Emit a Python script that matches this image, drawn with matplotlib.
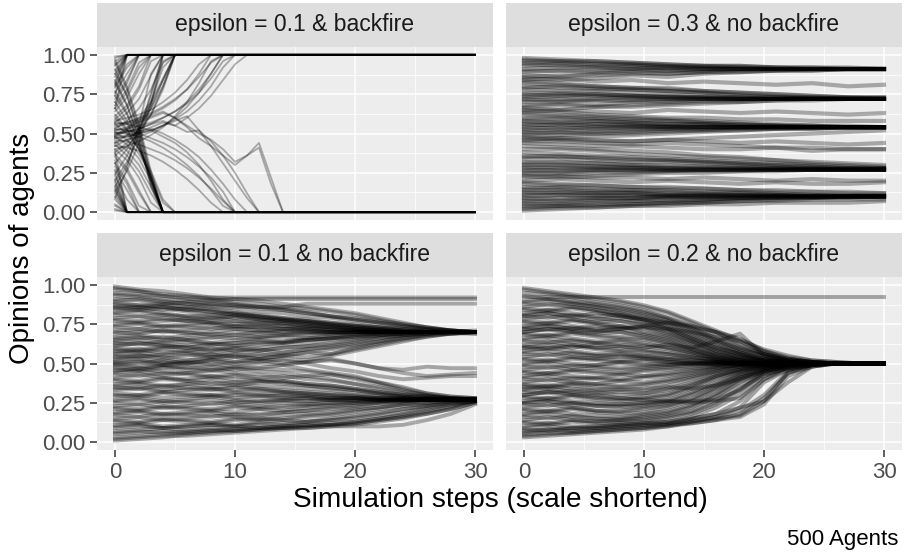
import matplotlib
matplotlib.use("Agg")
import matplotlib.pyplot as plt

plt.rcParams['font.family'] = ['Liberation Sans', 'DejaVu Sans']

W, H = 907, 557

# facet titles, in panel order (top-left, top-right, bottom-left, bottom-right)
titles = ["epsilon = 0.1 & backfire", "epsilon = 0.3 & no backfire",
          "epsilon = 0.1 & no backfire", "epsilon = 0.2 & no backfire"]

x_ticks = [0, 10, 20, 30]
y_ticks = [0.0, 0.25, 0.5, 0.75, 1.0]
y_ticklabels = ["0.00", "0.25", "0.50", "0.75", "1.00"]

# opinions are stored x100
# eps 0.1 + backfire: one list per agent for steps 0,1,2,... until it sticks at 0 or 100
backfire_01 = [
    [99, 100], [96, 100], [93, 100], [90, 100], [86, 100], [83, 100],
    [98, 100], [94, 100], [88, 100], [81, 100], [74, 100], [66, 100],
    [79, 92, 100], [76, 88, 100], [72, 84, 100], [68, 78, 95, 100],
    [80, 94, 100], [70, 82, 100], [66, 76, 92, 100], [59, 66, 78, 96, 100],
    [64, 73, 88, 100], [61, 68, 80, 100], [57, 63, 72, 87, 100],
    [53, 58, 66, 78, 95, 100], [49, 53, 60, 70, 85, 100],
    [44, 49, 56, 66, 80, 100], [38, 44, 53, 66, 84, 100],
    [48, 52, 58, 68, 84, 100], [42, 46, 52, 62, 78, 100], [36, 42, 50, 62, 80, 100],
    [31, 40, 53, 70, 92, 100], [24, 36, 52, 74, 100],
    [20, 32, 48, 70, 96, 100], [13, 26, 44, 68, 100],
    [16, 30, 50, 76, 100], [9, 28, 55, 88, 100],
    [2, 0], [5, 0], [8, 0], [12, 0], [15, 0], [19, 0],
    [1, 0], [4, 0], [10, 0], [14, 0], [17, 0], [21, 0], [26, 0], [33, 0], [39, 0],
    [23, 8, 0], [27, 14, 0], [31, 20, 4, 0], [35, 26, 12, 0],
    [29, 18, 0], [37, 28, 14, 0], [43, 36, 26, 12, 0], [48, 43, 34, 20, 0],
    [40, 33, 22, 6, 0], [45, 39, 30, 16, 0], [51, 46, 37, 24, 6, 0],
    [56, 50, 40, 26, 8, 0], [62, 53, 40, 22, 0], [70, 58, 42, 20, 0],
    [60, 52, 40, 22, 0], [66, 56, 42, 22, 0], [74, 62, 44, 20, 0],
    [77, 63, 44, 18, 0], [84, 68, 46, 16, 0], [91, 74, 50, 18, 0],
    [82, 68, 48, 22, 0], [88, 74, 52, 24, 0], [95, 78, 54, 22, 0],
    [97, 80, 56, 26, 0],
    [55, 57, 60, 63, 67, 72, 78, 86, 95, 100],
    [50, 51, 53, 56, 60, 64, 70, 78, 88, 100],
    [58, 60, 62, 65, 70, 76, 84, 94, 100],
    [52, 53, 55, 57, 60, 64, 69, 76, 85, 96, 100],
    [47, 48, 50, 52, 55, 59, 64, 71, 80, 92, 100],
    [44, 46, 48, 51, 55, 60, 67, 76, 88, 100],
    [56, 57, 59, 62, 66, 71, 78, 88, 100],
    [40, 42, 45, 49, 54, 61, 70, 82, 96, 100],
    [50, 52, 51, 54, 57, 55, 60, 66, 74, 84, 94, 100],
    [46, 45, 43, 40, 37, 33, 28, 22, 15, 7, 0],
    [42, 41, 39, 36, 32, 27, 21, 14, 6, 0],
    [53, 52, 50, 47, 44, 40, 35, 29, 22, 13, 0],
    [57, 56, 54, 52, 48, 44, 38, 30, 20, 8, 0],
    [51, 50, 48, 45, 41, 36, 30, 23, 14, 4, 0],
    [48, 49, 51, 53, 50, 46, 41, 35, 27, 18, 8, 0],
    [52, 54, 57, 60, 63, 60, 55, 50, 46, 40, 32, 36, 44, 22, 0],
    [49, 51, 53, 56, 58, 55, 51, 52, 42, 36, 30, 36, 41, 18, 0],
    [54, 56, 58, 61, 64, 60, 54, 47, 42, 31, 20, 9, 0],
    [47, 48, 50, 52, 55, 58, 61, 52, 45, 36, 25, 12, 0],
]
last_step = 30

# eps 0.3, no backfire
steps_03 = [0, 3, 6, 9, 12, 15, 18, 21, 24, 27, 30]
no_backfire_03 = [
    [98, 97, 96, 95, 94, 93, 93, 92, 92, 91, 91],
    [97, 96, 96, 95, 94, 93, 93, 92, 92, 92, 91],
    [96, 96, 95, 94, 93, 93, 92, 92, 91, 91, 91],
    [95, 95, 94, 94, 93, 92, 92, 91, 91, 91, 91],
    [94, 93, 92, 92, 91, 91, 91, 91, 91, 91, 91],
    [93, 94, 93, 93, 92, 92, 91, 91, 91, 91, 91],
    [91, 92, 92, 91, 92, 91, 91, 91, 91, 91, 91],
    [90, 90, 89, 90, 90, 90, 91, 91, 91, 91, 91],
    [89, 90, 90, 91, 90, 91, 91, 91, 91, 91, 91],
    [87, 86, 88, 89, 88, 89, 90, 90, 91, 91, 91],
    [86, 87, 87, 88, 88, 89, 89, 90, 90, 91, 91],
    [85, 84, 85, 87, 86, 88, 89, 90, 90, 91, 91],
    [84, 85, 83, 84, 82, 83, 82, 81, 82, 80, 81],
    [83, 82, 80, 79, 78, 77, 76, 75, 74, 73, 73],
    [82, 81, 80, 79, 79, 77, 76, 75, 74, 73, 73],
    [80, 79, 78, 78, 77, 76, 74, 73, 73, 72, 72],
    [79, 80, 79, 78, 77, 76, 75, 74, 73, 73, 72],
    [78, 77, 77, 76, 75, 74, 73, 73, 72, 72, 72],
    [76, 76, 75, 74, 74, 73, 73, 72, 72, 72, 72],
    [75, 74, 75, 74, 73, 73, 72, 72, 72, 72, 72],
    [74, 75, 74, 74, 73, 73, 72, 72, 72, 72, 72],
    [73, 74, 74, 73, 73, 72, 72, 72, 72, 72, 72],
    [72, 71, 72, 73, 72, 72, 72, 72, 72, 72, 72],
    [71, 72, 71, 71, 71, 72, 72, 72, 72, 72, 72],
    [70, 70, 71, 71, 72, 72, 72, 72, 72, 72, 72],
    [68, 69, 68, 70, 70, 71, 71, 72, 72, 72, 72],
    [67, 68, 67, 68, 69, 70, 70, 71, 72, 72, 72],
    [66, 65, 67, 67, 68, 69, 70, 71, 71, 72, 72],
    [65, 64, 62, 61, 60, 60, 59, 59, 58, 58, 58],
    [64, 65, 64, 63, 65, 64, 63, 64, 63, 62, 63],
    [63, 62, 61, 60, 59, 58, 57, 56, 55, 55, 54],
    [62, 61, 60, 59, 58, 57, 56, 55, 55, 54, 54],
    [60, 60, 59, 58, 58, 57, 56, 55, 55, 54, 54],
    [59, 59, 58, 57, 56, 56, 55, 55, 54, 54, 54],
    [58, 57, 58, 57, 56, 56, 55, 55, 54, 54, 54],
    [57, 57, 56, 56, 55, 55, 54, 54, 54, 54, 54],
    [56, 55, 56, 55, 55, 54, 54, 54, 54, 54, 54],
    [55, 56, 55, 55, 54, 54, 54, 54, 54, 54, 54],
    [54, 53, 54, 54, 54, 54, 54, 54, 54, 54, 54],
    [53, 54, 53, 54, 54, 54, 54, 54, 54, 54, 54],
    [52, 52, 53, 53, 53, 54, 54, 54, 54, 54, 54],
    [51, 50, 51, 52, 53, 53, 54, 54, 54, 54, 54],
    [50, 51, 50, 51, 52, 52, 53, 53, 54, 54, 54],
    [49, 49, 50, 50, 51, 52, 52, 53, 53, 54, 54],
    [48, 47, 48, 49, 50, 51, 52, 53, 53, 54, 54],
    [47, 46, 45, 45, 46, 47, 48, 49, 50, 51, 52],
    [46, 47, 46, 45, 46, 45, 44, 45, 44, 43, 44],
    [45, 45, 44, 43, 44, 43, 42, 41, 41, 40, 40],
    [44, 43, 42, 42, 41, 40, 40, 41, 39, 40, 40],
    [42, 41, 40, 39, 38, 36, 35, 33, 32, 31, 30],
    [40, 40, 39, 37, 36, 35, 34, 33, 31, 30, 29],
    [38, 37, 36, 35, 34, 33, 32, 31, 30, 29, 28],
    [36, 35, 35, 34, 33, 32, 31, 30, 29, 28, 28],
    [35, 36, 34, 33, 33, 32, 31, 30, 29, 28, 28],
    [34, 34, 33, 32, 32, 31, 30, 29, 28, 28, 27],
    [32, 31, 31, 30, 30, 29, 29, 28, 28, 27, 27],
    [31, 32, 31, 30, 29, 29, 28, 28, 27, 27, 27],
    [30, 30, 29, 29, 28, 28, 28, 27, 27, 27, 27],
    [29, 28, 28, 28, 27, 27, 27, 27, 27, 27, 27],
    [28, 29, 29, 28, 28, 27, 27, 27, 27, 27, 27],
    [27, 26, 27, 27, 27, 27, 27, 27, 27, 27, 27],
    [26, 27, 27, 27, 27, 27, 27, 27, 27, 27, 27],
    [25, 25, 26, 26, 26, 27, 27, 27, 27, 27, 27],
    [24, 24, 25, 25, 26, 26, 26, 27, 27, 27, 27],
    [23, 22, 23, 24, 25, 25, 26, 26, 27, 27, 27],
    [22, 23, 22, 22, 21, 22, 21, 20, 21, 20, 20],
    [20, 21, 20, 19, 20, 19, 18, 19, 18, 18, 19],
    [19, 18, 17, 16, 16, 15, 14, 14, 13, 13, 12],
    [18, 17, 17, 16, 15, 15, 14, 13, 13, 12, 12],
    [16, 15, 14, 14, 13, 12, 12, 11, 11, 10, 10],
    [15, 16, 15, 14, 14, 13, 13, 12, 11, 11, 11],
    [14, 14, 13, 13, 12, 12, 11, 11, 10, 10, 10],
    [13, 12, 12, 12, 11, 11, 11, 11, 10, 10, 10],
    [12, 13, 12, 12, 11, 11, 11, 10, 10, 10, 10],
    [11, 11, 11, 10, 10, 10, 10, 10, 10, 10, 10],
    [10, 11, 10, 11, 10, 10, 10, 10, 10, 10, 10],
    [9, 8, 9, 9, 10, 10, 10, 10, 10, 10, 10],
    [8, 9, 9, 9, 10, 10, 10, 10, 10, 10, 10],
    [7, 7, 8, 8, 9, 9, 9, 10, 10, 10, 10],
    [6, 6, 7, 7, 8, 8, 9, 9, 9, 10, 10],
    [5, 5, 6, 7, 7, 8, 9, 9, 10, 10, 10],
    [4, 4, 5, 5, 6, 6, 7, 7, 8, 8, 8],
    [3, 4, 4, 5, 6, 7, 8, 9, 9, 10, 10],
    [2, 3, 3, 4, 4, 5, 5, 6, 6, 6, 7],
    [1, 2, 3, 4, 5, 6, 7, 8, 9, 9, 10],
]

# eps 0.1, no backfire
steps_01 = [0, 2, 4, 6, 8, 10, 12, 14, 16, 18, 20, 22, 24, 26, 28, 30]
no_backfire_01 = [
    [99, 97, 96, 94, 92, 91, 90, 88, 86, 84, 82, 79, 76, 73, 71, 70],
    [98, 96, 94, 93, 91, 89, 88, 86, 85, 83, 81, 78, 75, 73, 71, 70],
    [97, 96, 93, 91, 90, 88, 86, 85, 83, 80, 78, 76, 74, 72, 71, 70],
    [95, 94, 93, 92, 92, 92, 92, 92, 92, 92, 92, 92, 92, 92, 92, 92],
    [94, 93, 91, 90, 88, 87, 85, 84, 82, 80, 79, 77, 75, 73, 71, 70],
    [93, 92, 90, 88, 87, 86, 86, 86, 88, 88, 88, 88, 88, 88, 88, 88],
    [91, 90, 88, 86, 84, 82, 81, 79, 77, 76, 74, 73, 72, 71, 70, 70],
    [90, 91, 89, 88, 86, 85, 83, 82, 80, 79, 77, 75, 73, 72, 71, 70],
    [89, 87, 86, 84, 85, 83, 80, 78, 77, 75, 74, 72, 71, 70, 70, 70],
    [88, 87, 88, 89, 90, 91, 91, 91, 91, 91, 91, 91, 91, 91, 91, 91],
    [87, 86, 84, 85, 83, 81, 79, 78, 76, 75, 73, 72, 71, 70, 70, 69],
    [86, 85, 86, 84, 83, 81, 80, 79, 78, 76, 75, 73, 72, 71, 70, 70],
    [85, 84, 85, 83, 81, 82, 80, 78, 77, 75, 74, 73, 71, 70, 70, 70],
    [85, 86, 87, 86, 88, 87, 86, 84, 82, 80, 78, 76, 74, 72, 71, 70],
    [83, 84, 82, 80, 81, 79, 78, 77, 75, 74, 72, 71, 70, 70, 69, 69],
    [82, 83, 81, 80, 79, 80, 78, 77, 76, 74, 73, 72, 71, 70, 70, 70],
    [81, 80, 81, 79, 78, 80, 78, 76, 75, 73, 72, 71, 70, 70, 70, 70],
    [79, 80, 78, 77, 79, 77, 76, 75, 74, 73, 72, 71, 70, 70, 70, 70],
    [78, 77, 79, 77, 76, 77, 75, 76, 74, 73, 72, 71, 70, 70, 70, 70],
    [77, 76, 77, 78, 76, 75, 76, 74, 73, 72, 71, 71, 70, 70, 70, 70],
    [75, 76, 74, 75, 76, 74, 73, 74, 72, 72, 71, 70, 70, 70, 70, 70],
    [74, 75, 73, 74, 75, 73, 74, 72, 73, 71, 71, 70, 70, 70, 70, 70],
    [73, 72, 74, 73, 72, 74, 73, 72, 72, 71, 71, 70, 70, 70, 70, 71],
    [71, 72, 70, 71, 73, 72, 71, 72, 71, 70, 70, 70, 70, 70, 70, 70],
    [70, 69, 71, 70, 68, 70, 69, 71, 70, 70, 70, 70, 70, 70, 70, 70],
    [69, 70, 71, 69, 70, 72, 71, 70, 71, 70, 70, 70, 70, 70, 70, 70],
    [67, 68, 66, 68, 69, 68, 70, 69, 70, 69, 70, 70, 70, 70, 70, 70],
    [66, 67, 65, 66, 67, 66, 67, 68, 68, 69, 70, 70, 70, 70, 70, 70],
    [65, 66, 67, 65, 66, 68, 67, 68, 69, 70, 69, 70, 70, 70, 70, 70],
    [64, 65, 63, 64, 62, 63, 64, 63, 65, 66, 67, 68, 69, 70, 70, 70],
    [63, 62, 64, 65, 63, 65, 66, 67, 66, 68, 69, 69, 70, 70, 70, 70],
    [62, 63, 61, 62, 63, 61, 63, 64, 65, 66, 68, 69, 69, 70, 70, 70],
    [61, 63, 62, 60, 62, 63, 65, 64, 66, 67, 68, 69, 70, 70, 70, 70],
    [60, 59, 61, 60, 58, 60, 59, 57, 59, 60, 62, 64, 66, 68, 69, 70],
    [59, 58, 60, 61, 59, 61, 62, 63, 65, 66, 67, 68, 69, 70, 70, 70],
    [58, 57, 59, 58, 57, 59, 58, 60, 61, 62, 64, 66, 68, 69, 70, 70],
    [57, 59, 57, 58, 60, 58, 60, 62, 63, 65, 66, 68, 69, 70, 70, 70],
    [56, 57, 55, 56, 54, 55, 53, 52, 50, 47, 45, 42, 40, 41, 42, 42],
    [55, 54, 56, 57, 55, 57, 58, 60, 61, 63, 65, 67, 68, 69, 70, 70],
    [54, 55, 53, 55, 56, 54, 56, 55, 57, 59, 61, 64, 67, 69, 70, 70],
    [53, 55, 54, 52, 54, 56, 55, 57, 59, 61, 63, 66, 68, 69, 70, 70],
    [52, 53, 51, 50, 52, 54, 53, 55, 54, 56, 59, 62, 65, 67, 69, 70],
    [51, 52, 50, 52, 53, 51, 53, 55, 57, 56, 60, 63, 66, 68, 69, 70],
    [50, 51, 49, 50, 52, 50, 51, 53, 52, 55, 58, 61, 64, 67, 69, 70],
    [50, 48, 49, 51, 50, 48, 47, 49, 46, 44, 42, 38, 34, 31, 29, 28],
    [49, 50, 52, 50, 49, 51, 52, 50, 51, 53, 50, 47, 46, 48, 47, 47],
    [48, 47, 49, 47, 48, 46, 47, 46, 45, 43, 41, 38, 35, 31, 29, 28],
    [47, 46, 48, 46, 45, 47, 45, 44, 42, 43, 40, 37, 33, 30, 28, 27],
    [46, 45, 47, 48, 46, 48, 50, 49, 51, 52, 50, 47, 44, 42, 43, 44],
    [45, 47, 45, 44, 46, 44, 43, 41, 42, 40, 37, 35, 32, 30, 28, 28],
    [44, 45, 43, 44, 42, 43, 41, 42, 40, 39, 37, 34, 31, 29, 28, 27],
    [43, 42, 44, 43, 41, 42, 40, 39, 37, 36, 34, 32, 30, 29, 28, 27],
    [41, 43, 41, 40, 42, 40, 39, 38, 36, 35, 33, 31, 29, 28, 27, 27],
    [40, 39, 41, 39, 40, 38, 39, 37, 36, 34, 33, 31, 29, 28, 27, 27],
    [39, 38, 40, 39, 37, 38, 36, 35, 34, 33, 31, 30, 29, 28, 27, 27],
    [37, 38, 36, 37, 35, 36, 34, 33, 32, 31, 30, 29, 28, 27, 27, 27],
    [36, 37, 35, 37, 38, 36, 38, 39, 37, 36, 34, 32, 30, 29, 28, 27],
    [35, 34, 36, 34, 33, 35, 33, 32, 31, 30, 29, 28, 28, 27, 27, 27],
    [34, 35, 33, 35, 34, 33, 34, 32, 31, 30, 29, 28, 28, 27, 27, 27],
    [33, 34, 32, 33, 34, 32, 31, 31, 30, 29, 28, 28, 27, 27, 27, 27],
    [31, 30, 32, 31, 30, 31, 30, 29, 29, 28, 28, 27, 27, 27, 27, 27],
    [30, 29, 31, 30, 29, 30, 29, 30, 29, 28, 28, 27, 27, 27, 27, 27],
    [29, 30, 28, 29, 30, 28, 29, 28, 28, 27, 28, 27, 27, 27, 27, 27],
    [27, 28, 26, 27, 29, 27, 26, 27, 28, 27, 27, 27, 27, 27, 27, 27],
    [26, 27, 25, 26, 27, 25, 26, 27, 26, 27, 27, 27, 27, 27, 27, 27],
    [25, 24, 26, 25, 24, 26, 25, 26, 26, 27, 26, 27, 27, 27, 27, 27],
    [23, 24, 22, 23, 25, 24, 23, 25, 24, 25, 26, 26, 27, 27, 27, 27],
    [22, 21, 23, 22, 21, 23, 22, 23, 24, 25, 25, 26, 27, 27, 27, 27],
    [21, 20, 22, 21, 20, 22, 21, 22, 23, 24, 25, 26, 26, 27, 27, 27],
    [19, 20, 18, 19, 20, 19, 21, 20, 22, 23, 24, 25, 26, 27, 27, 27],
    [18, 19, 17, 18, 19, 17, 18, 19, 20, 22, 23, 25, 26, 27, 27, 27],
    [17, 16, 18, 17, 16, 18, 17, 19, 20, 21, 22, 24, 25, 26, 27, 27],
    [15, 16, 14, 15, 17, 16, 15, 17, 18, 19, 21, 22, 24, 25, 26, 27],
    [14, 13, 15, 14, 13, 15, 14, 15, 17, 18, 20, 22, 24, 25, 26, 27],
    [13, 12, 14, 13, 12, 14, 15, 14, 16, 17, 19, 21, 23, 24, 26, 27],
    [11, 12, 10, 11, 12, 11, 13, 14, 13, 15, 17, 19, 21, 23, 25, 26],
    [10, 11, 9, 10, 11, 10, 12, 11, 13, 14, 16, 18, 21, 23, 25, 26],
    [9, 10, 9, 10, 11, 10, 11, 12, 13, 14, 15, 17, 19, 22, 24, 26],
    [7, 8, 9, 8, 9, 10, 9, 10, 11, 11, 12, 14, 16, 18, 21, 25],
    [6, 7, 6, 7, 8, 7, 8, 9, 10, 11, 13, 15, 18, 21, 24, 26],
    [5, 6, 7, 6, 7, 8, 9, 9, 9, 10, 10, 10, 11, 14, 18, 24],
    [3, 4, 5, 6, 7, 8, 9, 10, 11, 12, 13, 15, 17, 20, 23, 26],
    [2, 3, 4, 4, 5, 6, 7, 8, 9, 10, 11, 13, 15, 18, 21, 25],
    [1, 2, 3, 5, 6, 7, 8, 9, 10, 11, 12, 14, 16, 19, 22, 26],
]

# eps 0.2, no backfire
steps_02 = [0, 2, 4, 6, 8, 10, 12, 14, 16, 18, 20, 22, 24, 26, 28, 30]
no_backfire_02 = [
    [98, 96, 94, 92, 90, 87, 83, 77, 71, 65, 59, 55, 52, 51, 50, 50],
    [97, 95, 93, 91, 89, 86, 82, 76, 70, 64, 58, 54, 52, 51, 50, 50],
    [95, 94, 92, 89, 87, 84, 79, 73, 66, 60, 56, 53, 51, 50, 50, 50],
    [93, 91, 90, 88, 86, 83, 79, 74, 68, 61, 56, 53, 51, 50, 50, 50],
    [92, 92, 92, 92, 92, 92, 92, 92, 92, 92, 92, 92, 92, 92, 92, 92],
    [90, 91, 89, 87, 85, 82, 78, 72, 65, 59, 55, 52, 51, 50, 50, 50],
    [89, 90, 88, 86, 84, 81, 77, 71, 65, 59, 55, 52, 51, 50, 50, 50],
    [88, 87, 88, 86, 83, 80, 76, 70, 64, 58, 54, 52, 50, 50, 50, 50],
    [86, 88, 86, 84, 82, 78, 74, 68, 62, 57, 53, 51, 50, 50, 50, 50],
    [85, 84, 86, 84, 81, 79, 75, 69, 63, 57, 53, 51, 50, 50, 50, 50],
    [84, 83, 85, 83, 80, 78, 73, 67, 61, 56, 53, 51, 50, 50, 50, 50],
    [82, 84, 82, 80, 81, 77, 72, 66, 60, 56, 52, 51, 50, 50, 50, 50],
    [81, 82, 80, 78, 79, 76, 72, 66, 60, 56, 52, 51, 50, 50, 50, 50],
    [80, 82, 80, 82, 80, 78, 76, 73, 70, 66, 58, 53, 51, 50, 50, 50],
    [80, 79, 81, 79, 77, 75, 71, 65, 59, 55, 52, 51, 50, 50, 50, 50],
    [78, 80, 78, 76, 77, 74, 70, 64, 58, 54, 52, 50, 50, 50, 50, 50],
    [77, 76, 78, 76, 74, 73, 69, 64, 58, 54, 52, 50, 50, 50, 50, 50],
    [76, 75, 77, 75, 73, 72, 68, 63, 57, 54, 51, 50, 50, 50, 50, 50],
    [74, 76, 74, 72, 74, 70, 67, 62, 56, 53, 51, 50, 50, 50, 50, 50],
    [73, 74, 72, 71, 72, 69, 66, 61, 56, 53, 51, 50, 50, 50, 50, 50],
    [72, 74, 72, 74, 72, 74, 76, 74, 70, 62, 56, 52, 51, 50, 50, 50],
    [72, 71, 73, 71, 70, 68, 65, 60, 55, 52, 51, 50, 50, 50, 50, 50],
    [70, 72, 70, 69, 70, 67, 64, 59, 55, 52, 50, 50, 50, 50, 50, 50],
    [70, 72, 71, 70, 72, 73, 72, 70, 67, 64, 57, 52, 51, 50, 50, 50],
    [69, 68, 70, 68, 67, 66, 63, 59, 54, 52, 50, 50, 50, 50, 50, 50],
    [68, 67, 69, 67, 66, 65, 62, 58, 54, 52, 50, 50, 50, 50, 50, 50],
    [66, 68, 66, 64, 65, 63, 60, 57, 53, 51, 50, 50, 50, 50, 50, 50],
    [65, 66, 64, 63, 64, 62, 60, 57, 53, 51, 50, 50, 50, 50, 50, 50],
    [64, 63, 65, 63, 62, 61, 59, 56, 53, 51, 50, 50, 50, 50, 50, 50],
    [62, 64, 62, 60, 61, 59, 57, 55, 52, 51, 50, 50, 50, 50, 50, 50],
    [61, 60, 62, 60, 59, 58, 56, 54, 52, 50, 50, 50, 50, 50, 50, 50],
    [60, 59, 61, 59, 58, 57, 56, 54, 52, 50, 50, 50, 50, 50, 50, 50],
    [60, 62, 60, 62, 61, 60, 62, 60, 64, 69, 55, 51, 50, 50, 50, 50],
    [58, 60, 58, 56, 57, 55, 54, 53, 51, 50, 50, 50, 50, 50, 50, 50],
    [57, 58, 56, 55, 56, 54, 53, 52, 51, 50, 50, 50, 50, 50, 50, 50],
    [56, 55, 57, 55, 54, 55, 53, 52, 51, 50, 50, 50, 50, 50, 50, 50],
    [54, 56, 54, 53, 55, 53, 52, 51, 50, 50, 50, 50, 50, 50, 50, 50],
    [53, 52, 54, 53, 52, 53, 51, 50, 50, 50, 50, 50, 50, 50, 50, 50],
    [52, 51, 53, 52, 51, 52, 51, 50, 51, 50, 50, 50, 50, 50, 50, 50],
    [50, 52, 50, 49, 51, 50, 49, 50, 50, 50, 50, 50, 50, 50, 50, 50],
    [49, 50, 48, 49, 50, 49, 50, 50, 50, 50, 50, 50, 50, 50, 50, 50],
    [48, 47, 49, 48, 47, 48, 49, 50, 49, 50, 50, 50, 50, 50, 50, 50],
    [46, 48, 46, 47, 46, 47, 48, 49, 50, 50, 50, 50, 50, 50, 50, 50],
    [45, 44, 46, 45, 44, 46, 47, 48, 49, 50, 50, 50, 50, 50, 50, 50],
    [44, 43, 45, 44, 43, 45, 46, 47, 48, 49, 50, 50, 50, 50, 50, 50],
    [42, 44, 42, 41, 43, 42, 44, 46, 48, 49, 50, 50, 50, 50, 50, 50],
    [41, 42, 40, 41, 40, 42, 43, 45, 47, 49, 50, 50, 50, 50, 50, 50],
    [40, 39, 41, 40, 39, 41, 42, 44, 47, 49, 50, 50, 50, 50, 50, 50],
    [38, 40, 38, 37, 39, 38, 40, 43, 46, 48, 49, 50, 50, 50, 50, 50],
    [37, 36, 38, 37, 36, 37, 39, 42, 45, 48, 49, 50, 50, 50, 50, 50],
    [36, 35, 37, 36, 35, 36, 38, 41, 45, 48, 49, 50, 50, 50, 50, 50],
    [35, 34, 36, 34, 33, 34, 35, 34, 36, 40, 45, 48, 50, 50, 50, 50],
    [34, 36, 34, 33, 34, 33, 36, 40, 44, 47, 49, 50, 50, 50, 50, 50],
    [33, 34, 32, 31, 32, 31, 33, 37, 42, 46, 49, 50, 50, 50, 50, 50],
    [32, 31, 33, 32, 30, 31, 34, 38, 43, 46, 49, 50, 50, 50, 50, 50],
    [30, 32, 30, 29, 28, 29, 31, 36, 42, 46, 48, 50, 50, 50, 50, 50],
    [30, 32, 31, 30, 28, 27, 26, 26, 27, 33, 45, 49, 50, 50, 50, 50],
    [29, 28, 30, 28, 27, 28, 30, 35, 41, 45, 48, 50, 50, 50, 50, 50],
    [28, 27, 29, 27, 26, 27, 29, 34, 40, 45, 48, 49, 50, 50, 50, 50],
    [26, 28, 26, 25, 24, 25, 27, 32, 38, 44, 48, 49, 50, 50, 50, 50],
    [25, 26, 24, 23, 23, 24, 26, 31, 37, 43, 47, 49, 50, 50, 50, 50],
    [25, 26, 25, 24, 24, 25, 26, 25, 26, 28, 40, 48, 50, 50, 50, 50],
    [24, 23, 25, 23, 22, 23, 25, 30, 36, 43, 47, 49, 50, 50, 50, 50],
    [22, 24, 22, 20, 20, 22, 24, 28, 35, 42, 47, 49, 50, 50, 50, 50],
    [21, 20, 22, 20, 19, 21, 23, 27, 34, 41, 46, 49, 50, 50, 50, 50],
    [20, 19, 21, 19, 18, 19, 22, 26, 33, 41, 46, 49, 50, 50, 50, 50],
    [18, 20, 18, 17, 16, 18, 20, 24, 31, 40, 46, 49, 50, 50, 50, 50],
    [17, 18, 16, 15, 15, 17, 19, 23, 30, 39, 45, 48, 50, 50, 50, 50],
    [16, 15, 17, 15, 14, 16, 18, 22, 29, 38, 45, 48, 50, 50, 50, 50],
    [14, 16, 14, 13, 14, 15, 17, 20, 27, 36, 44, 48, 49, 50, 50, 50],
    [13, 12, 14, 13, 13, 14, 16, 19, 25, 34, 43, 47, 49, 50, 50, 50],
    [12, 11, 13, 12, 12, 13, 15, 18, 24, 33, 43, 47, 49, 50, 50, 50],
    [10, 12, 10, 10, 11, 12, 13, 16, 22, 30, 42, 47, 49, 50, 50, 50],
    [9, 10, 8, 9, 10, 11, 12, 15, 18, 26, 40, 46, 49, 50, 50, 50],
    [8, 7, 9, 9, 10, 11, 12, 14, 16, 22, 38, 46, 49, 50, 50, 50],
    [7, 8, 9, 10, 11, 12, 13, 15, 18, 22, 26, 38, 48, 50, 50, 50],
    [6, 8, 7, 8, 9, 10, 11, 13, 15, 17, 26, 44, 48, 50, 50, 50],
    [5, 6, 6, 7, 8, 9, 10, 12, 14, 18, 28, 44, 49, 50, 50, 50],
    [4, 5, 6, 7, 8, 9, 11, 12, 14, 16, 24, 42, 48, 50, 50, 50],
    [3, 4, 5, 6, 7, 8, 10, 13, 16, 20, 30, 45, 49, 50, 50, 50],
]


def box(x0, y0, x1, y1):
    # pixel box (from top-left) -> figure fraction
    return [x0 / W, 1 - y1 / H, (x1 - x0) / W, (y1 - y0) / H]


fig = plt.figure(figsize=(W / 100, H / 100), dpi=100)

cols = [(97, 493), (506, 902)]
rows = [(3, 47, 220), (233, 277, 450)]

axes = []
for r, (s_top, p_top, p_bot) in enumerate(rows):
    for c, (x0, x1) in enumerate(cols):
        i = r * 2 + c
        # strip
        sax = fig.add_axes(box(x0, s_top, x1, p_top))
        sax.set_facecolor('#DEDEDE')
        sax.set_xticks([])
        sax.set_yticks([])
        for s in sax.spines.values():
            s.set_visible(False)
        sax.text(0.5, 0.5, titles[i], ha='center', va='center',
                 fontsize=16.6, color='#1A1A1A', transform=sax.transAxes)

        ax = fig.add_axes(box(x0, p_top, x1, p_bot))
        ax.set_facecolor('#EDEDED')
        ax.set_xlim(-1.5, 31.5)
        ax.set_ylim(-0.05, 1.05)
        ax.set_xticks(x_ticks)
        ax.set_xticks([5, 15, 25], minor=True)
        ax.set_yticks(y_ticks)
        ax.set_yticklabels(y_ticklabels)
        ax.set_yticks([0.125, 0.375, 0.625, 0.875], minor=True)
        ax.grid(which='major', color='white', lw=1.1)
        ax.grid(which='minor', color='white', lw=0.55)
        ax.set_axisbelow(True)
        for s in ax.spines.values():
            s.set_visible(False)
        ax.tick_params(which='minor', length=0)
        ax.tick_params(which='major', length=5, width=1.1, color='#333333',
                       labelsize=16, labelcolor='#4D4D4D', pad=3.5)
        if r == 0:
            ax.tick_params(axis='x', which='major', length=0, labelbottom=False)
        if c == 1:
            ax.tick_params(axis='y', which='major', length=0, labelleft=False)
        axes.append(ax)

# top-left: backfire, agents stay at 0 or 1 once they get there
for v in backfire_01:
    xs = list(range(len(v))) + [last_step]
    ys = [a / 100 for a in v] + [v[-1] / 100]
    axes[0].plot(xs, ys, color='black', alpha=0.3, lw=1.3)

for v in no_backfire_03:
    axes[1].plot(steps_03, [a / 100 for a in v], color='black', alpha=0.3, lw=3.0)

for v in no_backfire_01:
    axes[2].plot(steps_01, [a / 100 for a in v], color='black', alpha=0.3, lw=2.8)

for v in no_backfire_02:
    axes[3].plot(steps_02, [a / 100 for a in v], color='black', alpha=0.32, lw=2.8)

fig.text(22 / W, 1 - 248 / H, "Opinions of agents", rotation=90,
         ha='center', va='center', fontsize=20)
fig.text(500 / W, 1 - 500 / H, "Simulation steps (scale shortend)",
         ha='center', va='center', fontsize=20.2)
fig.text(898 / W, 1 - 540 / H, "500 Agents", ha='right', va='center',
         fontsize=16)

fig.savefig("out.png", dpi=100)
